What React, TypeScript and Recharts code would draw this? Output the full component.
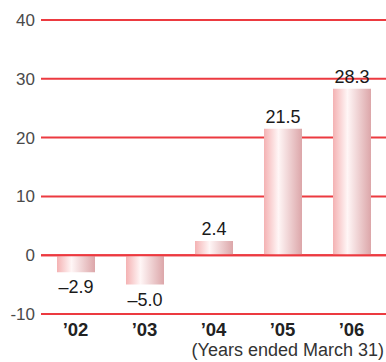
import { BarChart, Bar, XAxis, YAxis, CartesianGrid, ReferenceLine, LabelList } from "recharts";

const years = ["’02", "’03", "’04", "’05", "’06"];
const values = [-2.9, -5.0, 2.4, 21.5, 28.3];
const yTicks = [-10, 0, 10, 20, 30, 40];

const data = years.map((year, i) => ({ year, value: values[i] }));

const FONT = "'Liberation Sans', Helvetica, Arial, sans-serif";

const fmt = (v: number) => (v < 0 ? "–" + Math.abs(v).toFixed(1) : v.toFixed(1));

function ValueLabel(props: any) {
  const { x, y, width, height, value } = props;
  const top = Math.min(y, y + height);
  const bottom = Math.max(y, y + height);
  const cx = x + width / 2;
  const ty = value < 0 ? bottom + 21 : top - 6;
  return (
    <text x={cx} y={ty} textAnchor="middle" fontSize={18} fontFamily={FONT} fill="#1a1a1a">
      {fmt(value)}
    </text>
  );
}

export default function App() {
  return (
    <div style={{ position: "absolute", left: 0, top: 0, width: 386, height: 362, background: "#fff" }}>
      <BarChart width={386} height={362} data={data} margin={{ top: 20, right: 0, left: 0, bottom: 0 }}>
        <defs>
          <linearGradient id="barGrad" x1="0" y1="0" x2="1" y2="0">
            <stop offset="0%" stopColor="#f4b2b3" />
            <stop offset="38%" stopColor="#fff6f6" />
            <stop offset="100%" stopColor="#dca6a9" />
          </linearGradient>
        </defs>
        <CartesianGrid vertical={false} stroke="#ec3a40" strokeWidth={2} />
        <XAxis
          dataKey="year"
          axisLine={false}
          tickLine={false}
          tickSize={0}
          tickMargin={9}
          height={48}
          tick={{ fontSize: 18.5, fontWeight: 700, fill: "#222", fontFamily: FONT }}
        />
        <YAxis
          domain={[-10, 40]}
          ticks={yTicks}
          width={41}
          axisLine={false}
          tickLine={false}
          tickSize={0}
          tickMargin={6}
          tick={{ fontSize: 17, fill: "#4a4a4a", fontFamily: FONT }}
        />
        <Bar dataKey="value" fill="url(#barGrad)" barSize={38} isAnimationActive={false}>
          <LabelList dataKey="value" content={<ValueLabel />} />
        </Bar>
        <ReferenceLine y={0} stroke="#ec3a40" strokeWidth={2} />
      </BarChart>
      <div
        style={{
          position: "absolute",
          right: 2,
          top: 340,
          fontFamily: FONT,
          fontSize: 18,
          lineHeight: "20px",
          color: "#333",
          whiteSpace: "nowrap",
        }}
      >
        (Years ended March 31)
      </div>
    </div>
  );
}
